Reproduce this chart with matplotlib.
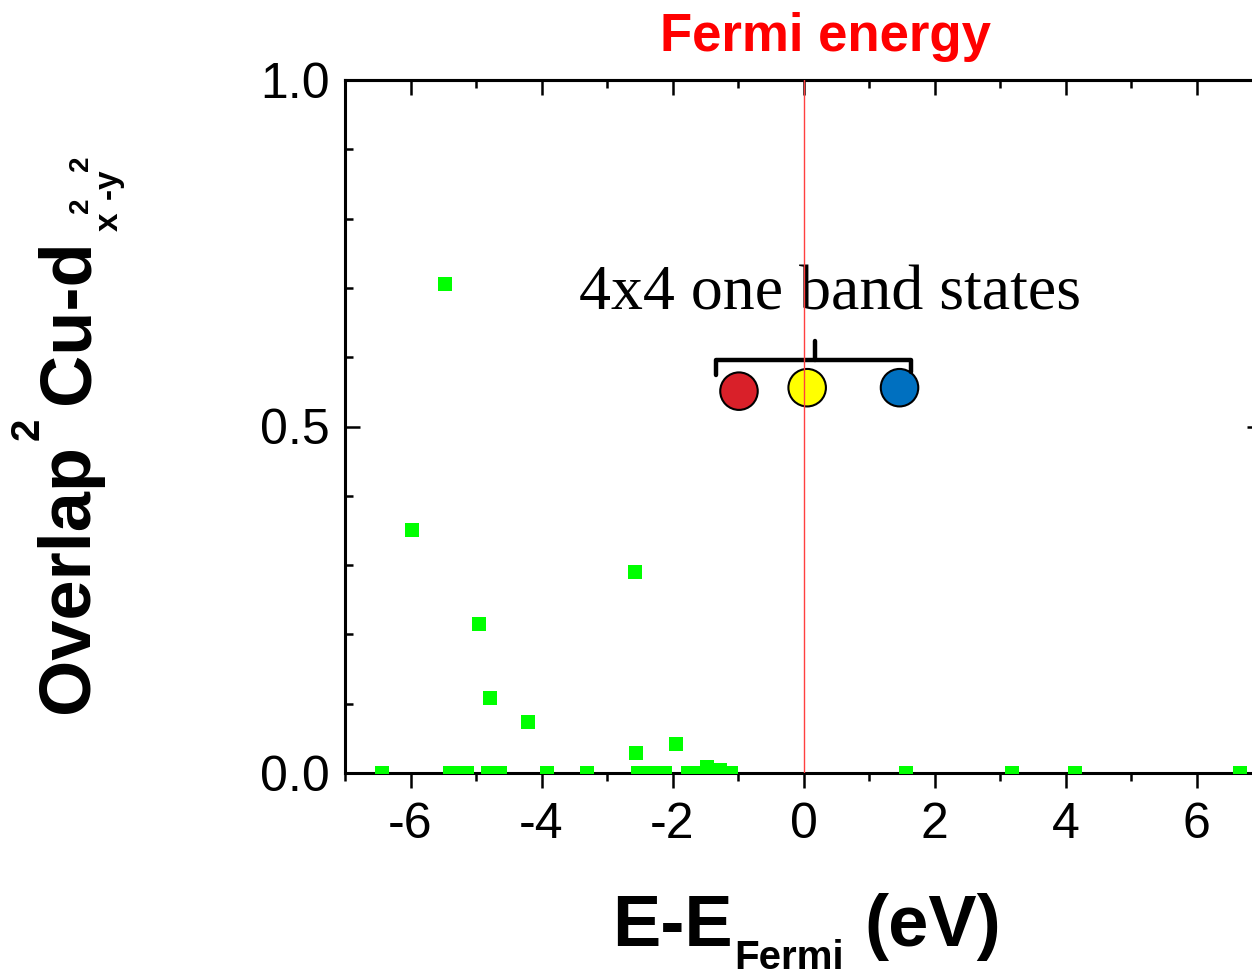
import numpy as np
import matplotlib
matplotlib.use("Agg")
import matplotlib.pyplot as plt
from matplotlib.transforms import IdentityTransform

# =========================
# DATA
# =========================
# green squares: energy (eV) vs overlap^2
energy = [-6.44, -5.47, -5.98, -4.96, -4.79, -4.21, -2.58, -2.55, -1.95, -1.48, -1.27,
          -5.40, -5.27, -5.13, -4.81, -4.63, -3.91, -3.31,
          -2.53, -2.43, -2.32, -2.22, -2.12, -1.77, -1.66, -1.11,
          1.56, 3.19, 4.14, 6.67]
overlap = [0.0, 0.706, 0.351, 0.215, 0.108, 0.074, 0.290, 0.029, 0.042, 0.009, 0.005,
           0.0, 0.0, 0.0, 0.0, 0.0, 0.0, 0.0,
           0.0, 0.0, 0.0, 0.0, 0.0, 0.0, 0.0, 0.0,
           0.0, 0.0, 0.0, 0.0]

# the three "4x4 one band" states
state_x = [-0.985, 0.056, 1.466]
state_y = [0.551, 0.556, 0.556]
state_colors = ["#D92029", "#FFFF00", "#0070C0"]

x_ticks = [-6, -4, -2, 0, 2, 4, 6]
y_ticks = [0.0, 0.5, 1.0]

# =========================
# FIGURE
# =========================
plt.rcParams['font.family'] = ['Liberation Sans', 'DejaVu Sans']

W, H = 1252, 976
fig = plt.figure(figsize=(W / 100, H / 100), dpi=100)
ax = fig.add_axes([345 / W, 1 - 773 / H, 917 / W, 693 / H])

# =========================
# PLOT
# =========================
ax.plot(energy, overlap, linestyle='none', marker='s', markersize=10,
        color='#00FF00', markeredgewidth=0, zorder=3)

ax.scatter(state_x, state_y, s=27 ** 2, c=state_colors, edgecolors='black',
           linewidths=1.5, zorder=4)

# bracket above the states
ax.plot([-1.33, -1.33, 1.64, 1.64], [0.574, 0.596, 0.596, 0.578],
        color='black', lw=3.2, solid_joinstyle='round', solid_capstyle='round',
        zorder=4)
ax.plot([0.17, 0.17], [0.596, 0.623], color='black', lw=3.2,
        solid_capstyle='round', zorder=4)

ax.text(0.41, 0.69, "4x4 one band states", family='Liberation Serif',
        fontsize=46, ha='center', va='center', zorder=5)

ax.axvline(0, color='#FF4040', lw=1.0, zorder=6)

ax.set_xlim(-7, 7)
ax.set_ylim(0, 1.0)
ax.set_xticks(x_ticks)
ax.set_xticklabels([str(t) for t in x_ticks])
ax.set_xticks(np.arange(-7, 8, 1), minor=True)
ax.set_yticks(y_ticks)
ax.set_yticklabels(["0.0", "0.5", "1.0"])
ax.set_yticks(np.arange(0, 1.01, 0.1), minor=True)

for s in ax.spines.values():
    s.set_linewidth(2.2)

ax.tick_params(axis='x', which='both', direction='out', top=False, labelsize=36,
               width=1.8, pad=10)
ax.tick_params(axis='x', which='major', length=11)
ax.tick_params(axis='x', which='minor', length=6)
ax.tick_params(axis='y', which='both', direction='in', right=True, labelsize=36,
               width=1.8, pad=11)
ax.tick_params(axis='y', which='major', length=11)
ax.tick_params(axis='y', which='minor', length=6)

# top axis ticks pointing inward
top = ax.secondary_xaxis('top')
top.set_xticks(x_ticks)
top.set_xticks(np.arange(-7, 8, 1), minor=True)
top.tick_params(which='both', direction='in', labeltop=False, width=1.8)
top.tick_params(which='major', length=11)
top.tick_params(which='minor', length=6)
top.spines['top'].set_linewidth(2.2)

# =========================
# LABELS (pieces chained so sub/superscripts sit like the original)
# =========================
renderer = fig.canvas.get_renderer()


def chain_text(pieces, x0, y0, vertical=False):
    # pieces: (text, fontsize, shift in px up from baseline, gap after in px)
    pos = 0
    for s, size, shift, gap in pieces:
        if vertical:
            t = fig.text(x0 - shift, y0 + pos, s, transform=IdentityTransform(),
                         rotation=90, rotation_mode='anchor', ha='left',
                         va='baseline', fontsize=size, fontweight='bold')
            pos += t.get_window_extent(renderer).height + gap
        else:
            t = fig.text(x0 + pos, y0 + shift, s, transform=IdentityTransform(),
                         ha='left', va='baseline', fontsize=size, fontweight='bold')
            pos += t.get_window_extent(renderer).width + gap


chain_text([("E-E", 52, 0, 2), ("Fermi", 29, -23, 20), ("(eV)", 52, 0, 0)],
           612, H - 946)

chain_text([("Overlap", 52, 0, 4), ("2", 29, 49, 14), ("Cu-d", 52, 0, 8),
            ("x", 24, -30, -1), ("2", 20, 0, -1), ("-", 24, -30, -1),
            ("y", 24, -30, -1), ("2", 20, 0, 0)],
           88, H - 713, vertical=True)

fig.text(826 / W, 1 - 37 / H, "Fermi energy", color='red', fontsize=38,
         fontweight='bold', ha='center', va='center')

fig.savefig("out.png", dpi=100)
